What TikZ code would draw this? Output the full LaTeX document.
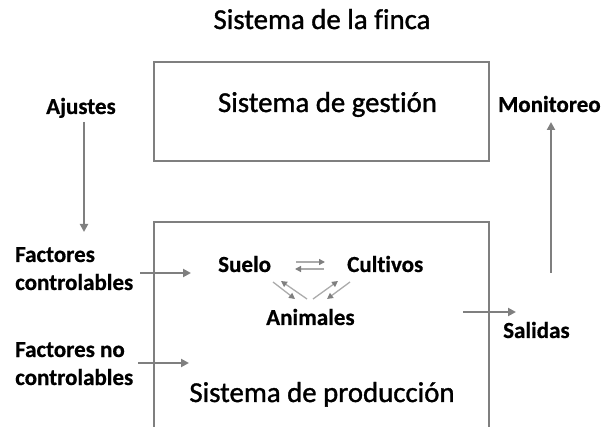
\documentclass[tikz,border=0pt]{standalone}
\usepackage{fontspec}
\setmainfont{Carlito}[Ligatures=NoCommon]
\newfontfamily\regheavy{Carlito}[Ligatures=NoCommon,FakeBold=1.2]
\newfontfamily\boldheavy{Carlito Bold}[Ligatures=NoCommon,FakeBold=0.6]
\usetikzlibrary{arrows.meta}
\definecolor{ln}{HTML}{7F7F7F}
\definecolor{lt}{HTML}{ABABAB}
\tikzset{
  box/.style={draw=ln,line width=2.4pt},
  bigtxt/.style={inner sep=0pt,font=\regheavy\fontsize{28.8}{34}\selectfont},
  lbl/.style={inner sep=0pt,align=left,font=\boldheavy\fontsize{23}{28}\selectfont},
  arr/.style={draw=ln,line width=2.4pt,-{Triangle[length=8pt,width=8pt]}},
  sarr/.style={draw=lt,line width=1.3pt,-{Triangle[length=6pt,width=6pt,color=ln]}}
}
\begin{document}
\begin{tikzpicture}[x=1pt,y=-1pt]
\useasboundingbox (0,0) rectangle (605,427);
% boxes
\draw[box] (154,62) rectangle (489,161);
\draw[box] (154,428) -- (154,222) -- (489,222) -- (489,428);
% big texts
\node[bigtxt,anchor=base] (titulo) at (322,29) {Sistema de la finca};
\node[bigtxt,anchor=base] (gestion) at (327.5,112) {Sistema de gestión};
\node[bigtxt,anchor=base] (produccion) at (322,402) {Sistema de producción};
% labels
\node[lbl,anchor=base west] (ajustes) at (46,114) {Ajustes};
\node[lbl,anchor=base west] (monitoreo) at (498,112) {Monitoreo};
\node[lbl,anchor=base west] (fc) at (15,290) {Factores\\controlables};
\node[lbl,anchor=base west] (fnc) at (15,385) {Factores no\\controlables};
\node[lbl,anchor=base west] (salidas) at (503,338) {Salidas};
\node[lbl,anchor=base west] (suelo) at (218,272) {Suelo};
\node[lbl,anchor=base west] (cultivos) at (347,272) {Cultivos};
\node[lbl,anchor=base west] (animales) at (266,325) {Animales};
% arrow end points
\coordinate (aj1) at (84,122);   \coordinate (aj2) at (84,232);
\coordinate (mo1) at (551,273);  \coordinate (mo2) at (551,122);
\coordinate (fc1) at (140,273);  \coordinate (fc2) at (191,273);
\coordinate (fn1) at (138,363);  \coordinate (fn2) at (189,363);
\coordinate (sa1) at (463,312);  \coordinate (sa2) at (516,312);
\coordinate (s1) at (296,262);   \coordinate (s2) at (325,262);
\coordinate (s3) at (324,269);   \coordinate (s4) at (295,269);
\coordinate (s5) at (273,282);   \coordinate (s6) at (295,299);
\coordinate (s7) at (307,299);   \coordinate (s8) at (281,281);
\coordinate (s9) at (313,299);   \coordinate (s10) at (338,281);
\coordinate (s11) at (350,282);  \coordinate (s12) at (327,299);
% main arrows
\draw[arr] (aj1) -- (aj2);
\draw[arr] (mo1) -- (mo2);
\draw[arr] (fc1) -- (fc2);
\draw[arr] (fn1) -- (fn2);
\draw[arr] (sa1) -- (sa2);
% small arrows
\draw[sarr] (s1) -- (s2);
\draw[sarr] (s3) -- (s4);
\draw[sarr] (s5) -- (s6);
\draw[sarr] (s7) -- (s8);
\draw[sarr] (s9) -- (s10);
\draw[sarr] (s11) -- (s12);
\end{tikzpicture}
\end{document}
